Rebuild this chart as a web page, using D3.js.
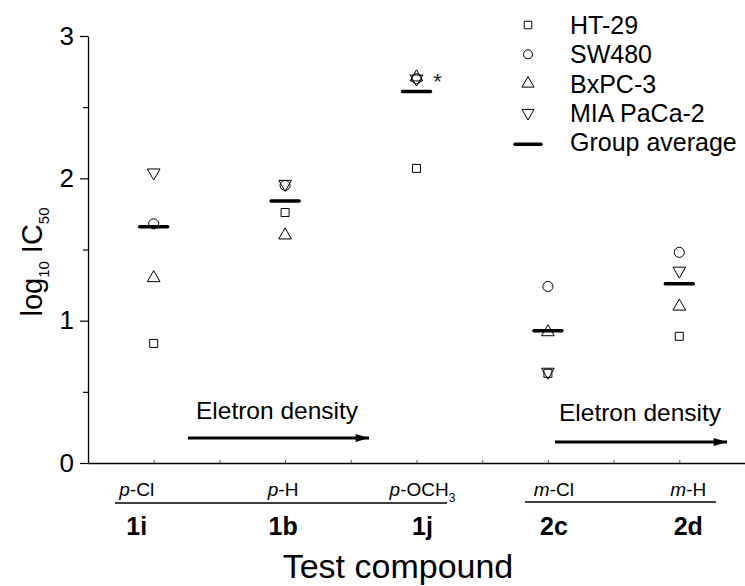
<!DOCTYPE html>
<html>
<head>
<meta charset="utf-8">
<script src="https://cdn.jsdelivr.net/npm/d3@7"></script>
<style>
  body { margin: 0; background: #fff; }
  svg { font-family: "Liberation Sans", Arial, sans-serif; }
</style>
</head>
<body>
<svg id="chart" width="745" height="586"></svg>
<script>
// values (log10 IC50)
var compounds = ["1i", "1b", "1j", "2c", "2d"]
var subPrefix = ["p", "p", "p", "m", "m"]
var subGroup = ["Cl", "H", "OCH", "Cl", "H"]
var subIndex = ["", "", "3", "", ""]
var xPos = [1, 3, 5, 7, 9]
var ht29 = [0.84, 1.76, 2.07, 0.63, 0.89]
var sw480 = [1.68, 1.95, 2.70, 1.24, 1.48]
var bxpc3 = [1.30, 1.60, 2.71, 0.92, 1.10]
var mia = [2.04, 1.96, 2.70, 0.64, 1.35]
var groupAvg = [1.66, 1.84, 2.61, 0.93, 1.26]
var yTicks = [0, 0.5, 1, 1.5, 2, 2.5, 3]
var xTicks = [1, 2, 3, 4, 5, 6, 7, 8, 9]
var legendNames = ["HT-29", "SW480", "BxPC-3", "MIA PaCa-2", "Group average"]
var legendTypes = ["square", "circle", "up", "down", "avg"]

var svg = d3.select("#chart")

var x = d3.scaleLinear().domain([0, 10]).range([88, 745])
var y = d3.scaleLinear().domain([0, 3]).range([463, 36])

// y axis
var yAxis = d3.axisLeft(y)
    .tickValues(yTicks)
    .tickSizeOuter(0)
    .tickFormat(function(d) { return d % 1 === 0 ? d : "" })
var gy = svg.append("g").attr("transform", "translate(" + x(0) + ",0)").call(yAxis)
gy.select(".domain").attr("stroke", "#000").attr("stroke-width", 1.3)
gy.selectAll(".tick line")
    .attr("x2", function(d) { return d % 1 === 0 ? -8 : -5 })
    .attr("stroke-width", 1.2)
gy.selectAll(".tick text")
    .attr("x", -14)
    .attr("font-size", 26)
    .attr("font-family", "Liberation Sans, Arial, sans-serif")
    .attr("fill", "#000")

// x axis, runs to the right edge
var xAxis = d3.axisBottom(x).tickValues(xTicks).tickSize(-3).tickSizeOuter(0).tickFormat("")
var gx = svg.append("g").attr("transform", "translate(0," + y(0) + ")").call(xAxis)
gx.select(".domain").attr("stroke", "#000").attr("stroke-width", 1.3)
gx.selectAll(".tick line").attr("stroke", "#555")

// y title
var yt = svg.append("text")
    .attr("transform", "translate(42,262) rotate(-90)")
    .attr("text-anchor", "middle")
    .attr("font-size", 29)
yt.append("tspan").text("log")
yt.append("tspan").attr("font-size", 15).attr("dy", 7).text("10")
yt.append("tspan").attr("dy", -7).text(" IC")
yt.append("tspan").attr("font-size", 15).attr("dy", 7).text("50")

// markers
function symPath(type, size) {
  var t = type === "square" ? d3.symbolSquare : type === "circle" ? d3.symbolCircle : d3.symbolTriangle
  return d3.symbol().type(t).size(size)()
}
var sizes = {square: 64, circle: 80, up: 70, down: 70}
function drawSeries(vals, type) {
  svg.append("g").selectAll("path")
    .data(vals)
    .enter()
    .append("path")
    .attr("d", symPath(type, sizes[type]))
    .attr("transform", function(d, i) {
      return "translate(" + x(xPos[i]) + "," + y(d) + ")" + (type === "down" ? " rotate(180)" : "")
    })
    .attr("fill", "none")
    .attr("stroke", "#000")
    .attr("stroke-width", 1)
}
drawSeries(ht29, "square")
drawSeries(sw480, "circle")
drawSeries(bxpc3, "up")
drawSeries(mia, "down")

// group averages
svg.append("g").selectAll("line")
  .data(groupAvg)
  .enter()
  .append("line")
  .attr("x1", function(d, i) { return x(xPos[i]) - 14 })
  .attr("x2", function(d, i) { return x(xPos[i]) + 14 })
  .attr("y1", function(d) { return y(d) })
  .attr("y2", function(d) { return y(d) })
  .attr("stroke", "#000")
  .attr("stroke-width", 3.5)
  .attr("stroke-linecap", "round")

// asterisk on 1j
svg.append("text")
  .attr("x", x(xPos[2]) + 21)
  .attr("y", y(2.70) + 10)
  .attr("text-anchor", "middle")
  .attr("font-size", 22)
  .attr("fill", "#222")
  .text("*")

// electron density arrows
svg.append("defs").append("marker")
  .attr("id", "head")
  .attr("viewBox", "0 0 10 6")
  .attr("refX", 10).attr("refY", 3)
  .attr("markerWidth", 15).attr("markerHeight", 8)
  .attr("markerUnits", "userSpaceOnUse")
  .attr("orient", "auto")
  .append("path").attr("d", "M0,0L10,3L0,6Z").attr("fill", "#000")

var arrows = [
  {x1: 188, x2: 369, ty: 419, ay: 438, tx: 277},
  {x1: 555, x2: 727, ty: 421, ay: 442, tx: 640}
]
arrows.forEach(function(a) {
  svg.append("text").attr("x", a.tx).attr("y", a.ty).attr("text-anchor", "middle")
    .attr("font-size", 24.5).text("Eletron density")
  svg.append("line").attr("x1", a.x1).attr("x2", a.x2).attr("y1", a.ay).attr("y2", a.ay)
    .attr("stroke", "#000").attr("stroke-width", 3.2).attr("marker-end", "url(#head)")
})

// compound labels under the axis (hand placed in the original, nudged a little)
var nudge = [-17, -2, 6, 6, 9]
var lab = svg.append("g")
compounds.forEach(function(c, i) {
  var cx = x(xPos[i]) + nudge[i]
  var t = lab.append("text").attr("x", cx).attr("y", 496)
    .attr("text-anchor", "middle").attr("font-size", 19)
  t.append("tspan").attr("font-style", "italic").text(subPrefix[i])
  t.append("tspan").text("-" + subGroup[i])
  if (subIndex[i]) t.append("tspan").attr("font-size", 12).attr("dy", 6).text(subIndex[i])

  lab.append("text").attr("x", cx).attr("y", 535)
    .attr("text-anchor", "middle").attr("font-size", 25).attr("font-weight", "bold").text(c)
})
// substituent group lines
svg.append("line").attr("x1", 115).attr("x2", 447).attr("y1", 503).attr("y2", 503).attr("stroke", "#000").attr("stroke-width", 1.3)
svg.append("line").attr("x1", 525).attr("x2", 716).attr("y1", 502).attr("y2", 502).attr("stroke", "#000").attr("stroke-width", 1.3)

svg.append("text").attr("x", 398).attr("y", 578).attr("text-anchor", "middle")
  .attr("font-size", 34).text("Test compound")

// legend
var lg = svg.append("g").attr("transform", "translate(528,25)")
legendNames.forEach(function(n, i) {
  var row = lg.append("g").attr("transform", "translate(0," + (i * 29.3) + ")")
  var tp = legendTypes[i]
  if (tp === "avg") {
    row.append("line").attr("x1", -13).attr("x2", 13).attr("y1", 2).attr("y2", 2).attr("stroke", "#000")
      .attr("stroke-width", 3.5).attr("stroke-linecap", "round")
  } else {
    row.append("path")
      .attr("d", symPath(tp, tp === "square" ? 56 : 64))
      .attr("transform", tp === "down" ? "rotate(180)" : null)
      .attr("fill", "none").attr("stroke", "#000").attr("stroke-width", 1)
  }
  row.append("text").attr("x", 42).attr("y", 9).attr("font-size", 25).text(n)
})
</script>
</body>
</html>
